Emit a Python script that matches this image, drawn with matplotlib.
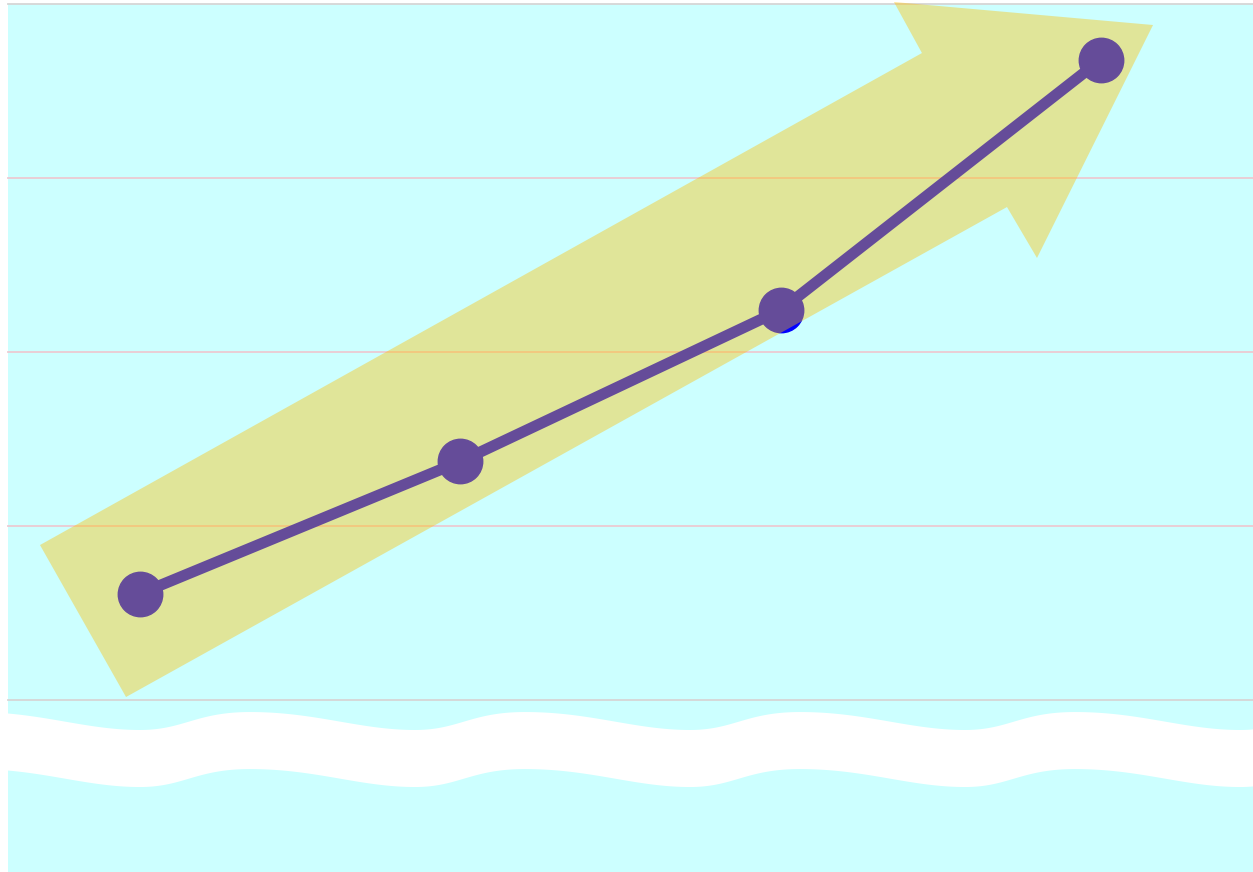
import numpy as np
import matplotlib.pyplot as plt
from matplotlib.patches import Polygon

# data
x_idx = [0, 1, 2, 3]
values = [6.1, 13.7, 22.4, 36.8]
grid_levels = [0, 10, 20, 30, 40]

fig = plt.figure(figsize=(12.53, 8.72), dpi=100)
ax = fig.add_axes([8 / 1253, 0, 1245 / 1253, 868 / 872])
ax.set_facecolor('#ccffff')
ax.set_xlim(-0.412, 3.475)
ax.set_ylim(-9.9, 40)
for s in ax.spines.values():
    s.set_visible(False)
ax.set_xticks([])
ax.set_yticks([])

# horizontal guide lines
for lvl in grid_levels:
    col = '#d6d6d6' if lvl in (0, 40) else '#eccad2'
    ax.axhline(lvl, color=col, lw=1.3, zorder=1, clip_on=False)

ax.plot(x_idx, values, color='#0000ff', lw=8, marker='o', ms=32,
        solid_capstyle='round', zorder=2)

# big translucent arrow on top (axes fractions)
arrow_pts = [(0.0948, 0.2016), (0.0257, 0.3767), (0.7341, 0.9435),
             (0.7116, 1.0023), (0.9197, 0.9758), (0.8265, 0.7074),
             (0.8024, 0.7661)]
ax.add_patch(Polygon(arrow_pts, closed=True, transform=ax.transAxes,
                     fc='#ffc000', ec='none', alpha=0.4, zorder=3,
                     clip_on=False))


# wavy axis-break band
def bez(p0, p1, p2, p3, n=40):
    t = np.linspace(0, 1, n)[:, None]
    p0, p1, p2, p3 = map(np.array, (p0, p1, p2, p3))
    return ((1 - t) ** 3 * p0 + 3 * (1 - t) ** 2 * t * p1
            + 3 * (1 - t) * t ** 2 * p2 + t ** 3 * p3)


P = 0.2209
hi, lo = 0.1843, 0.1636
d, r = 0.1325, 0.0884
segs = []
for k in range(-1, 6):
    xp = -0.0265 + k * P
    segs.append(bez((xp, hi), (xp + 0.053, hi), (xp + 0.088, lo), (xp + d, lo)))
    xt = xp + d
    segs.append(bez((xt, lo), (xt + 0.035, lo), (xt + 0.045, hi), (xt + r, hi)))
top = np.vstack(segs)
bot = top.copy()
bot[:, 1] -= 0.0657
band = np.vstack([top, bot[::-1]])
ax.add_patch(Polygon(band, closed=True, transform=ax.transAxes,
                     fc='white', ec='none', zorder=4))

fig.savefig('out.png', dpi=100)
plt.close(fig)
